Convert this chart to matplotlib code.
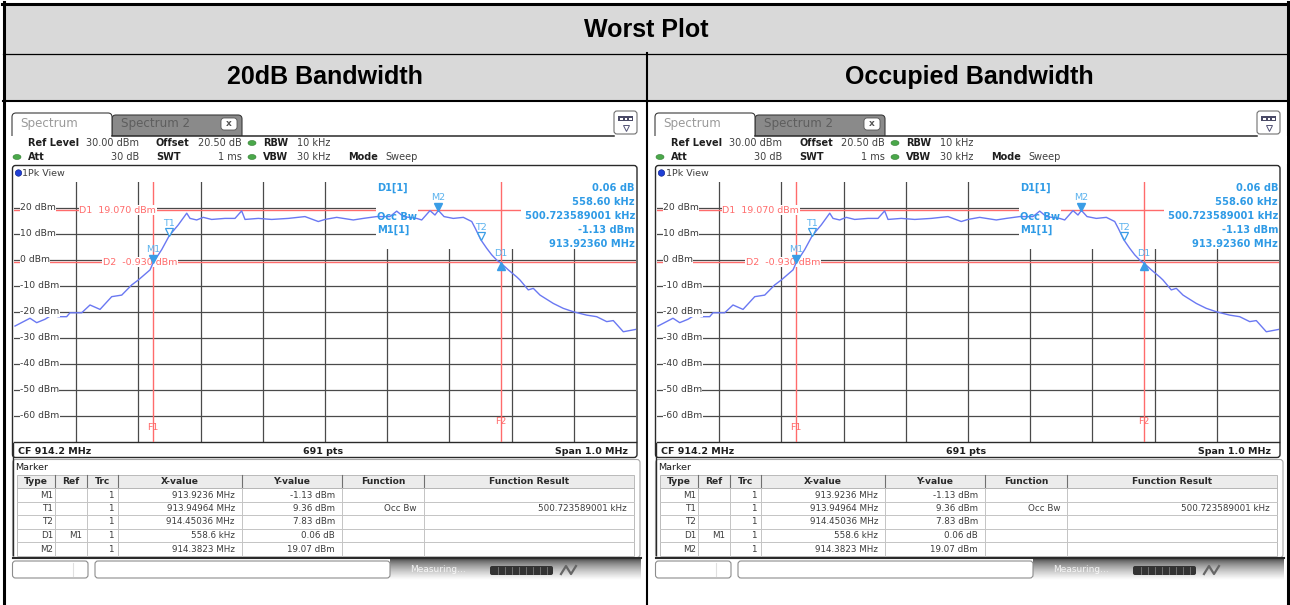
import matplotlib
matplotlib.use("Agg")
import numpy as np
import matplotlib.pyplot as plt
from matplotlib.patches import Rectangle, FancyBboxPatch, Ellipse
from matplotlib.transforms import offset_copy, blended_transform_factory

# trace 1 (1Pk max), thinned sweep points
freq_mhz = [913.7016, 913.7257, 913.7365, 913.7498, 913.7606, 913.7712, 913.7847, 913.7900,
            913.8088, 913.8222, 913.8383, 913.8571, 913.8732, 913.8892, 913.8998, 913.9187,
            913.9236, 913.9375, 913.94964, 913.9641, 913.9777, 913.9830, 913.9937, 914.0043,
            914.0178, 914.0392, 914.0553, 914.0660, 914.0714, 914.0928, 914.1143, 914.1410,
            914.1678, 914.1892, 914.2000, 914.2188, 914.2455, 914.2616, 914.2831, 914.3045,
            914.3153, 914.3259, 914.3474, 914.3555, 914.3688, 914.3768, 914.3823, 914.3914,
            914.4063, 914.4224, 914.4359, 914.4420, 914.45036, 914.4600, 914.4680, 914.4760,
            914.4822, 914.4947, 914.5082, 914.5135, 914.5268, 914.5349, 914.5457, 914.5670,
            914.5831, 914.5992, 914.6207, 914.6368, 914.6529, 914.6635, 914.6796, 914.6995]
level_dbm = [-25.4, -22.4, -24.1, -22.8, -21.2, -21.8, -21.8, -20.3,
             -20.3, -17.3, -19.0, -14.1, -13.5, -9.6, -7.7, -3.8,
             -1.13, 4.0, 9.36, 13.5, 18.0, 16.0, 15.4, 16.4,
             15.6, 16.0, 16.0, 18.9, 15.6, 16.0, 15.6, 16.0,
             16.7, 14.8, 15.6, 16.4, 15.4, 16.0, 16.7, 16.7,
             18.8, 16.7, 16.0, 15.4, 19.0, 17.3, 19.07, 16.7,
             16.0, 16.4, 14.8, 12.0, 7.83, 4.5, 2.0, 0.0,
             -1.07, -3.8, -6.5, -7.7, -11.5, -10.9, -13.5, -16.7,
             -18.6, -19.9, -21.2, -21.8, -23.7, -23.3, -27.6, -26.7]

center_mhz = 914.2
span_mhz = 1.0
ref_level = 30.0
y_ticks = [20, 10, 0, -10, -20, -30, -40, -50, -60]

# markers
mk_type = ["M1", "T1", "T2", "D1", "M2"]
mk_ref = ["", "", "", "M1", ""]
mk_x = [913.9236, 913.94964, 914.45036, 558.6, 914.3823]
mk_x_fmt = ["{:.4f} MHz", "{:.5f} MHz", "{:.5f} MHz", "{:.1f} kHz", "{:.4f} MHz"]
mk_y = [-1.13, 9.36, 7.83, 0.06, 19.07]
mk_y_unit = ["dBm", "dBm", "dBm", "dB", "dBm"]
mk_func = ["", "Occ Bw", "", "", ""]
mk_result = ["", "500.723589001 kHz", "", "", ""]
occ_bw_khz = 500.723589001

d1_line = 19.07
d2_line = -0.93

panel_titles = ["20dB Bandwidth", "Occupied Bandwidth"]

RED = "#ff6b6b"
TRACE = "#6a78f2"
MK = "#3a9de6"
MKTXT = "#2f9be6"
GRID = "#4a4a4a"

fig = plt.figure(figsize=(12.9, 6.05), dpi=100)
ax0 = fig.add_axes([0, 0, 1, 1])
ax0.set_xlim(0, 1290)
ax0.set_ylim(605, 0)
ax0.axis("off")

# outer table
ax0.add_patch(Rectangle((3, 3), 1285, 97, fc="#d9d9d9", ec="none", zorder=0))
ax0.plot([2, 1289], [3.5, 3.5], color="black", lw=2.2)
ax0.plot([3.5, 3.5], [2, 605], color="black", lw=2.2)
ax0.plot([1287.5, 1287.5], [2, 605], color="black", lw=2.2)
ax0.plot([3, 1288], [53.5, 53.5], color="black", lw=0.9)
ax0.plot([3, 1288], [100.5, 100.5], color="black", lw=1.5)
ax0.plot([646.5, 646.5], [53, 605], color="black", lw=1.5)
ax0.text(646, 30, "Worst Plot", ha="center", va="center", fontsize=18,
         fontweight="bold", family="Liberation Sans")
ax0.text(325, 77, panel_titles[0], ha="center", va="center", fontsize=18,
         fontweight="bold", family="Liberation Sans")
ax0.text(969, 77, panel_titles[1], ha="center", va="center", fontsize=18,
         fontweight="bold", family="Liberation Sans")


def rbox(x0, y0, x1, y1, r, **kw):
    return FancyBboxPatch((x0 + r, y0 + r), x1 - x0 - 2 * r, y1 - y0 - 2 * r,
                          boxstyle="round,pad=%g" % r, **kw)


def pill(x, y, z=5):
    ax0.add_patch(Ellipse((x, y), 8, 5, fc="#4aa84a", ec="#2f7a2f", lw=0.4, zorder=z))


def draw_panel(dx):
    X = lambda x: x + dx
    t = lambda x, y, s, **kw: ax0.text(X(x), y, s, va="center", zorder=6, **kw)

    # tabs
    ax0.add_patch(rbox(X(112), 115, X(242), 145, 4, fc="#8a8a8a", ec="#3a3a3a", lw=0.8, zorder=1))
    ax0.add_patch(rbox(X(12), 113, X(112), 145, 4, fc="white", ec="#3a3a3a", lw=0.8, zorder=2))
    ax0.add_patch(Rectangle((X(8), 135.5), 636, 28, fc="white", ec="none", zorder=3))
    ax0.plot([X(112), X(614)], [135.5, 135.5], color="#2a2a2a", lw=1.1, zorder=4)
    t(20, 124, "Spectrum", fontsize=8.6, color="#9a9a9a")
    t(121, 124, "Spectrum 2", fontsize=8.6, color="#5e5e5e")
    ax0.add_patch(rbox(X(221), 118, X(237), 130, 3, fc="white", ec="#555555", lw=0.6, zorder=5))
    t(229, 124, "x", fontsize=6.5, color="#555555", ha="center", fontweight="bold")

    # menu icon
    ax0.add_patch(rbox(X(614), 111, X(637), 134, 3, fc="white", ec="#707070", lw=0.8, zorder=5))
    ax0.add_patch(Rectangle((X(618), 116), 15, 5, fc="#4a4a66", ec="none", zorder=6))
    for sx in (620, 624.5, 629):
        ax0.add_patch(Rectangle((X(sx), 117.5), 2.5, 2, fc="white", ec="none", zorder=7))
    ax0.plot([X(625.5)], [128], marker="v", ms=5, mfc="none", mec="#555577", mew=0.7, zorder=6)

    # settings header
    lab = dict(fontsize=7, fontweight="bold", color="#1e1e1e")
    val = dict(fontsize=7, color="#404040")
    t(28, 143, "Ref Level", **lab)
    t(139, 143, "30.00 dBm", ha="right", **val)
    t(156, 143, "Offset", **lab)
    t(242, 143, "20.50 dB", ha="right", **val)
    pill(X(252), 143)
    t(263, 143, "RBW", **lab)
    t(297, 143, "10 kHz", **val)
    pill(X(17), 157)
    t(28, 157, "Att", **lab)
    t(139, 157, "30 dB", ha="right", **val)
    t(156, 157, "SWT", **lab)
    t(242, 157, "1 ms", ha="right", **val)
    pill(X(252), 157)
    t(263, 157, "VBW", **lab)
    t(297, 157, "30 kHz", **val)
    t(348, 157, "Mode", **lab)
    t(385, 157, "Sweep", **val)

    # diagram frame
    ax0.add_patch(rbox(X(12.5), 165.5, X(637), 457.5, 3, fc="white", ec="#2a2a2a", lw=1.0, zorder=2))
    ax0.add_patch(Ellipse((X(18.5), 173), 6.5, 6.5, fc="#1f3fd6", ec="#0a1a80", lw=0.4, zorder=6))
    t(22.5, 173, "1Pk View", fontsize=6.8, color="#404040")
    t(18, 451, "CF %.1f MHz" % center_mhz, fontsize=6.8, fontweight="bold", color="#1e1e1e")
    t(323, 451, "691 pts", fontsize=6.8, fontweight="bold", color="#1e1e1e", ha="center")
    t(628, 451, "Span %.1f MHz" % span_mhz, fontsize=6.8, fontweight="bold", color="#1e1e1e", ha="right")

    # trace diagram
    ax = fig.add_axes([(14 + dx) / 1290, (605 - 442) / 605, 622 / 1290, 260 / 605])
    ax.set_facecolor("none")
    ax.set_xlim(center_mhz - span_mhz / 2, center_mhz + span_mhz / 2)
    ax.set_ylim(ref_level - 100, ref_level)
    ax.set_xticks([center_mhz + 0.1 * k for k in range(-4, 5)])
    ax.set_yticks(y_ticks)
    ax.tick_params(length=0, labelbottom=False, labelleft=False)
    ax.grid(True, color=GRID, lw=0.9)
    for s in ("top", "left", "right"):
        ax.spines[s].set_visible(False)
    ax.spines["bottom"].set_color("#2a2a2a")
    ax.spines["bottom"].set_linewidth(1.0)

    bt = blended_transform_factory(ax.transAxes, ax.transData)
    for v in y_ticks:
        ax.text(0.0096, v, "%d dBm" % v, transform=bt, va="center", fontsize=6.7,
                color="#3a3a3a", zorder=5,
                bbox=dict(fc="white", ec="none", pad=0.3))

    # marker info area hides the grid
    ax.add_patch(Rectangle((0.582, 0.742), 0.418, 0.258, transform=ax.transAxes,
                           fc="white", ec="none", zorder=2))

    m1_f, m1_l = mk_x[0], mk_y[0]
    d1_f = m1_f + mk_x[3] / 1000.0
    d1_l = m1_l + mk_y[3]

    ax.axhline(d1_line, color=RED, lw=1.0, zorder=2.6)
    ax.axhline(d2_line, color=RED, lw=1.0, zorder=2.6)
    ax.axvline(m1_f, color=RED, lw=1.0, zorder=2.6)
    ax.axvline(d1_f, color=RED, lw=1.0, zorder=2.6)
    ax.add_patch(Rectangle((0.815, 0.742), 0.185, 0.258, transform=ax.transAxes,
                           fc="white", ec="none", zorder=3))
    ax.add_patch(Rectangle((0.582, 0.835), 0.068, 0.084, transform=ax.transAxes,
                           fc="white", ec="none", zorder=3))

    ax.text(0.105, d1_line, "D1  %.3f dBm" % d1_line, transform=bt, va="center",
            fontsize=6.8, color=RED, zorder=5,
            bbox=dict(fc="white", ec="none", pad=0.4))
    ax.text(0.143, d2_line, "D2  %.3f dBm" % d2_line, transform=bt, va="center",
            fontsize=6.8, color=RED, zorder=3.5,
            bbox=dict(fc="white", ec="none", pad=0.4))
    ax.text(m1_f, -64.6, "F1", ha="center", va="center", fontsize=6.8, color=RED, zorder=5)
    ax.text(d1_f, -62.0, "F2", ha="center", va="center", fontsize=6.8, color=RED, zorder=5)

    ax.plot(freq_mhz, level_dbm, color=TRACE, lw=1.0, zorder=4)

    up = offset_copy(ax.transData, fig=fig, x=0, y=3.5, units="dots")
    dn = offset_copy(ax.transData, fig=fig, x=0, y=-3.5, units="dots")
    ax.plot([m1_f, mk_x[4]], [m1_l, mk_y[4]], ls="none", marker="v", ms=6,
            color=MK, transform=up, zorder=6)
    ax.plot([mk_x[1], mk_x[2]], [mk_y[1], mk_y[2]], ls="none", marker="v", ms=6,
            mfc="white", mec=MK, mew=0.9, transform=up, zorder=6)
    ax.plot([d1_f], [d1_l], ls="none", marker="^", ms=6, color=MK, transform=dn, zorder=6)
    for name, f, l, off in [("M1", m1_f, m1_l, 13), ("T1", mk_x[1], mk_y[1], 12.5),
                            ("T2", mk_x[2], mk_y[2], 12.5), ("M2", mk_x[4], mk_y[4], 13),
                            ("D1", d1_f, d1_l, 9)]:
        ax.annotate(name, (f, l), xytext=(0, off * 0.72), textcoords="offset points",
                    ha="center", va="center", fontsize=6.8, color="#5ab2ee", zorder=6)

    # marker info block
    it = dict(transform=ax0.transData, va="center", fontsize=7.1, fontweight="bold",
              color=MKTXT, zorder=6)
    ax.text(X(377), 188, "D1[1]", **it)
    ax.text(X(377), 217, "Occ Bw", **it)
    ax.text(X(377), 230, "M1[1]", **it)
    vals = ["%.2f dB" % mk_y[3], "%.2f kHz" % mk_x[3], "%.9f kHz" % occ_bw_khz,
            "%.2f dBm" % m1_l, "%.5f MHz" % m1_f]
    for i, s in enumerate(vals):
        ax.text(X(635), 188 + 14 * i, s, ha="right", **it)

    # marker table
    ax0.add_patch(rbox(X(12.5), 459.5, X(640), 557.5, 3, fc="white", ec="#a8a8a8", lw=0.8, zorder=2))
    ax0.plot([X(12.5), X(12.5)], [443, 555], color="#2a2a2a", lw=1.0, zorder=3)
    ax0.plot([X(13), X(641)], [557.5, 557.5], color="#2a2a2a", lw=1.5, zorder=3)
    t(15, 467, "Marker", fontsize=6.8, color="#1e1e1e")
    cols = [17, 55, 87, 118, 242, 342, 424, 634]
    ax0.add_patch(Rectangle((X(17), 475), 617, 13, fc="#ececec", ec="#b0b0b0", lw=0.6, zorder=3))
    ax0.add_patch(Rectangle((X(17), 488), 617, 67.5, fc="white", ec="#b0b0b0", lw=0.6, zorder=3))
    for c in cols[1:-1]:
        ax0.plot([X(c), X(c)], [475, 488], color="#707070", lw=0.8, zorder=4)
        ax0.plot([X(c), X(c)], [488, 555.5], color="#c4c4c4", lw=0.7, zorder=4)
    for r in range(1, 5):
        ax0.plot([X(17), X(634)], [488 + 13.5 * r] * 2, color="#c4c4c4", lw=0.7, zorder=4)
    heads = ["Type", "Ref", "Trc", "X-value", "Y-value", "Function", "Function Result"]
    for i, h in enumerate(heads):
        t((cols[i] + cols[i + 1]) / 2, 481.5, h, ha="center", fontsize=6.6,
          fontweight="bold", color="#2a2a2a")
    rights = [53, 82, 114, 235, 335, 417, 627]
    for r in range(len(mk_type)):
        row = [mk_type[r], mk_ref[r], "1", mk_x_fmt[r].format(mk_x[r]),
               "%.2f %s" % (mk_y[r], mk_y_unit[r]), mk_func[r], mk_result[r]]
        y = 495 + 13.5 * r
        for c, s in enumerate(row):
            t(rights[c], y, s, ha="right", fontsize=6.3, color="#3c3c3c")

    # status bar
    ax0.add_patch(rbox(X(12.5), 561, X(88), 578, 3, fc="white", ec="#8c8c8c", lw=0.8, zorder=3))
    ax0.plot([X(73), X(73)], [563, 576], color="#e0e0e0", lw=0.8, zorder=4)
    ax0.add_patch(rbox(X(95), 561, X(390), 578, 3, fc="white", ec="#8c8c8c", lw=0.8, zorder=3))
    grad = np.linspace(0, 1, 30) ** 0.6
    img = np.repeat(grad[:, None], 10, axis=1)
    ax0.imshow(img, cmap="gray", vmin=-0.25, vmax=1.0, extent=(X(390), X(641), 580, 558.5),
               aspect="auto", zorder=2)
    t(410, 570, "Measuring...", fontsize=6.5, color="white", alpha=0.85)
    ax0.add_patch(rbox(X(490), 566, X(553), 575, 2, fc="#333333", ec="none", zorder=5))
    for sx in np.arange(498, 550, 7):
        ax0.plot([X(sx), X(sx)], [567, 574], color="#7a7a7a", lw=0.6, zorder=6)
    ax0.plot([X(561), X(566), X(571), X(576)], [574, 566, 574, 566], color="#666666", lw=1.6, zorder=6)


draw_panel(0)
draw_panel(643)
ax0.set_xlim(0, 1290)
ax0.set_ylim(605, 0)

fig.savefig("out.png", dpi=100)
